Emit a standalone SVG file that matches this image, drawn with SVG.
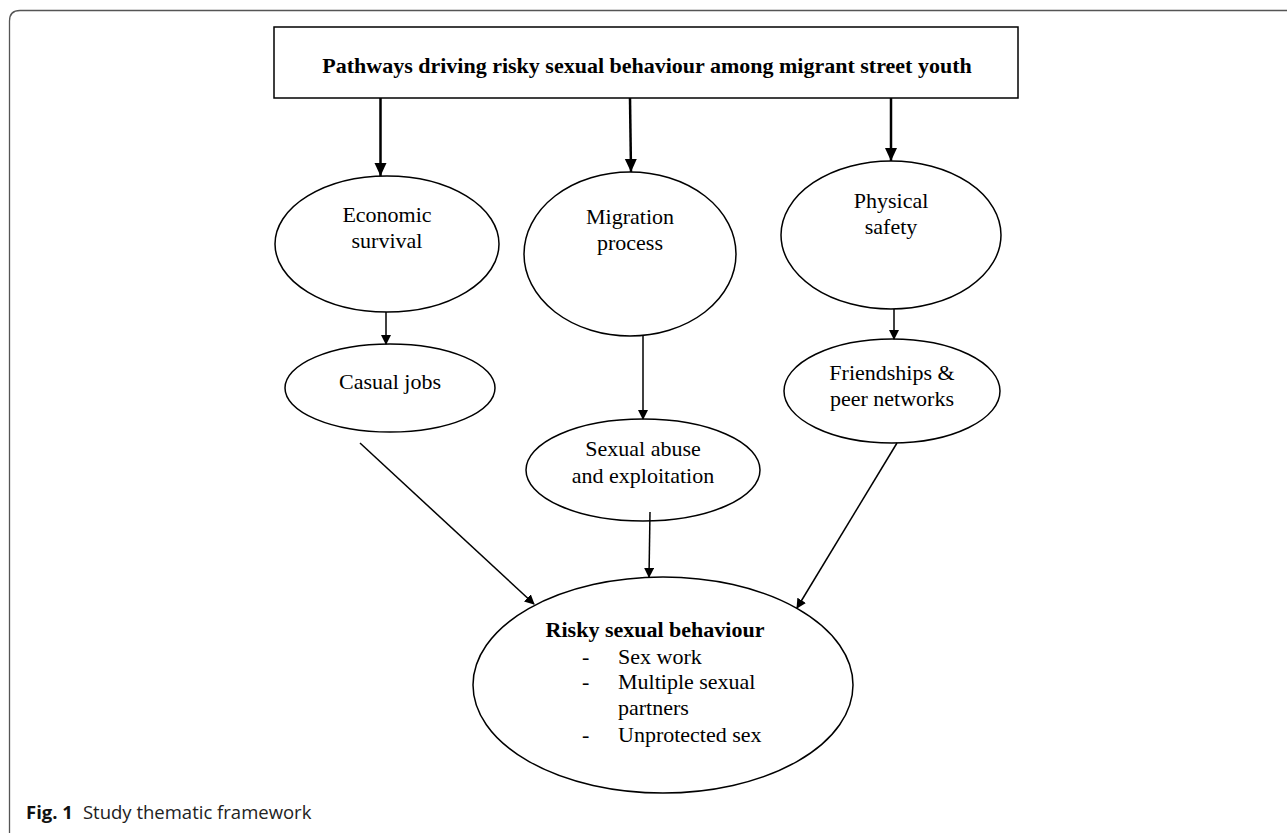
<svg xmlns="http://www.w3.org/2000/svg" width="1287" height="833" viewBox="0 0 1287 833">
<defs>
<marker id="ah" markerWidth="10" markerHeight="10" refX="9" refY="5" orient="auto" markerUnits="userSpaceOnUse">
<path d="M0,0 L10,5 L0,10 z" fill="#000"/>
</marker>
<marker id="ahb" markerWidth="14" markerHeight="14" refX="13" refY="6" orient="auto" markerUnits="userSpaceOnUse">
<path d="M0,0 L13,6 L0,12 z" fill="#000"/>
</marker>
</defs>
<style>
.n{fill:#fff;stroke:#000;stroke-width:1.5}
.t{font-family:"Liberation Serif","Times New Roman",serif;font-size:22px;fill:#000;text-anchor:middle}
.tb{font-family:"Liberation Serif","Times New Roman",serif;font-size:22px;font-weight:bold;fill:#000;text-anchor:middle}
.tl{font-family:"Liberation Serif","Times New Roman",serif;font-size:22px;fill:#000}
.c{stroke:#000;stroke-width:1.5;fill:none;marker-end:url(#ah)}
.cb{stroke:#000;stroke-width:2.5;fill:none;marker-end:url(#ahb)}
.cap{font-family:"Open Sans","Noto Sans",sans-serif;font-size:18.5px;fill:#222}
</style>
<rect width="1287" height="833" fill="#fff"/>
<path d="M9.5,833 L9.5,21 Q9.5,10.5 20,10.5 L1287,10.5" fill="none" stroke="#555" stroke-width="1.3"/>
<g id="title">
<rect class="n" x="274" y="27" width="744" height="71" stroke-width="2"/>
<text class="tb" x="647" y="73">Pathways driving risky sexual behaviour among migrant street youth</text>
</g>
<g id="economic">
<ellipse class="n" cx="387" cy="244" rx="112" ry="68"/>
<text class="t" x="387" y="222">Economic</text>
<text class="t" x="387" y="248">survival</text>
</g>
<g id="migration">
<ellipse class="n" cx="630" cy="254" rx="106" ry="82"/>
<text class="t" x="630" y="224">Migration</text>
<text class="t" x="630" y="250">process</text>
</g>
<g id="physical">
<ellipse class="n" cx="891" cy="235" rx="110" ry="74"/>
<text class="t" x="891" y="208">Physical</text>
<text class="t" x="891" y="234">safety</text>
</g>
<g id="casual">
<ellipse class="n" cx="390" cy="388" rx="105" ry="44"/>
<text class="t" x="390" y="389">Casual jobs</text>
</g>
<g id="abuse">
<ellipse class="n" cx="643" cy="470" rx="117" ry="51"/>
<text class="t" x="643" y="456">Sexual abuse</text>
<text class="t" x="643" y="483">and exploitation</text>
</g>
<g id="friendships">
<ellipse class="n" cx="892" cy="391" rx="108" ry="52"/>
<text class="t" x="892" y="380">Friendships &amp;</text>
<text class="t" x="892" y="406">peer networks</text>
</g>
<g id="risky">
<ellipse class="n" cx="663" cy="685" rx="190" ry="108"/>
<text class="tb" x="655" y="637">Risky sexual behaviour</text>
<text class="tl" x="582" y="664">-</text>
<text class="tl" x="618" y="664">Sex work</text>
<text class="tl" x="582" y="689">-</text>
<text class="tl" x="618" y="689">Multiple sexual</text>
<text class="tl" x="618" y="715">partners</text>
<text class="tl" x="582" y="742">-</text>
<text class="tl" x="618" y="742">Unprotected sex</text>
</g>
<g id="connectors">
<line class="cb" x1="380.5" y1="98" x2="380.5" y2="176"/>
<line class="cb" x1="630" y1="98" x2="631" y2="172"/>
<line class="cb" x1="891" y1="98" x2="891" y2="161"/>
<line class="c" x1="386" y1="312" x2="386" y2="344"/>
<line class="c" x1="643" y1="336" x2="643" y2="419"/>
<line class="c" x1="894" y1="309" x2="894" y2="339"/>
<line class="c" x1="360" y1="443" x2="534" y2="604"/>
<line class="c" x1="650" y1="512" x2="649" y2="577"/>
<line class="c" x1="897" y1="443" x2="797" y2="608"/>
</g>
<g id="caption">
<text class="cap" x="26" y="819"><tspan font-weight="bold" fill="#111">Fig. 1</tspan><tspan dx="10">Study thematic framework</tspan></text>
</g>
</svg>
